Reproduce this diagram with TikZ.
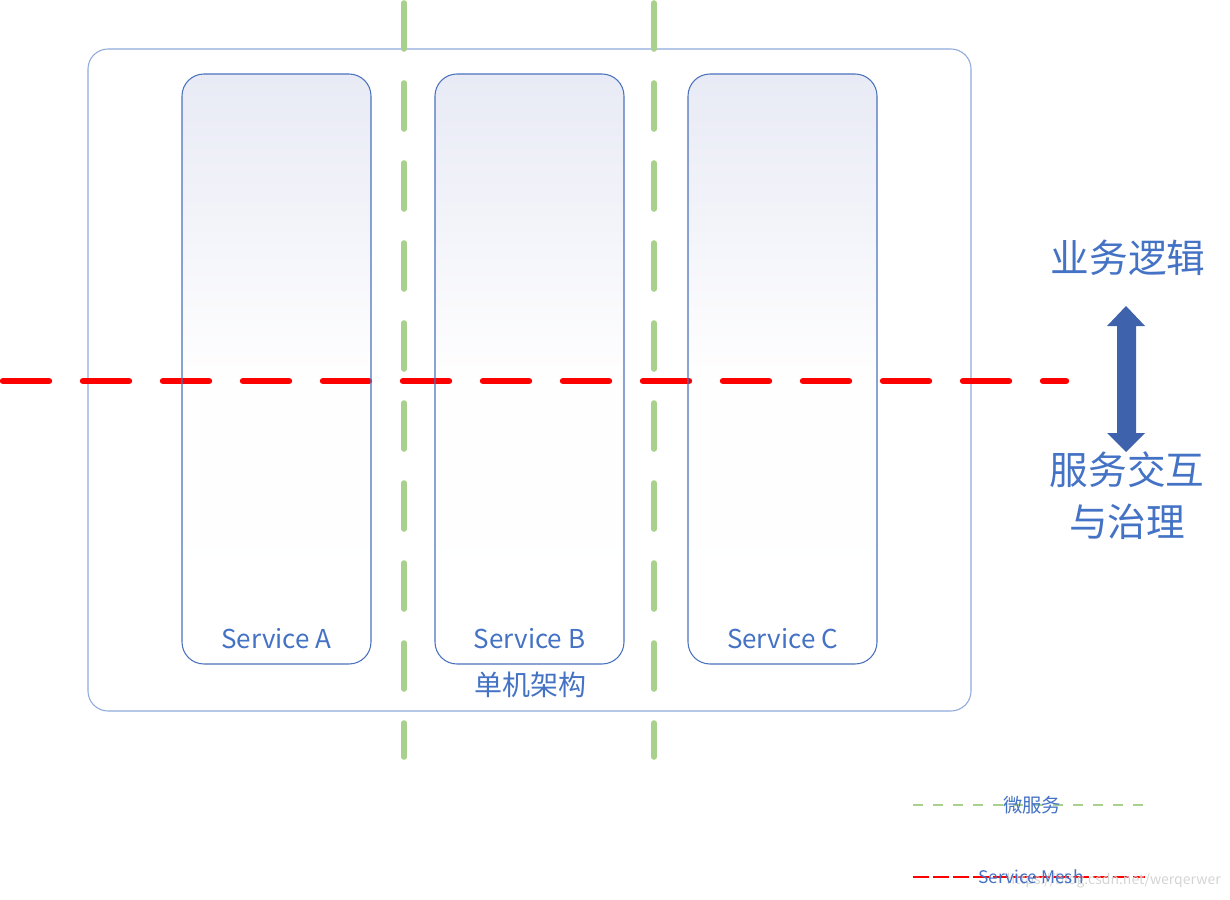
\documentclass[tikz,border=0pt]{standalone}
\usepackage{fontspec}
\setmainfont{Noto Sans CJK SC}
\usetikzlibrary{calc}
\definecolor{txtblue}{HTML}{4472C4}
\definecolor{outerblue}{HTML}{8FAADC}
\definecolor{boxblue}{HTML}{4A72BE}
\definecolor{lav}{HTML}{E8EAF5}
\definecolor{msgreen}{HTML}{A9D18E}
\definecolor{arrowblue}{HTML}{3F62AD}
\definecolor{wmgray}{HTML}{D4D4D4}
\tikzset{
  svcbox/.style={draw=boxblue, line width=0.8pt, rounded corners=16.5pt},
  svclabel/.style={text=txtblue, font=\fontsize{19.5}{22}\selectfont, anchor=center, inner sep=0pt},
  greendash/.style={draw=msgreen, line width=4.2pt, line cap=round, dash pattern=on 34.5pt off 25.5pt},
  reddash/.style={draw=red, line width=4.8pt, line cap=round, dash pattern=on 34.5pt off 25.5pt},
  bigtext/.style={text=txtblue, font=\fontsize{29}{36}\selectfont, inner sep=0pt, anchor=center},
}
\begin{document}
\begin{tikzpicture}[x=0.75pt, y=-0.75pt]
\useasboundingbox (0,0) rectangle (1230,899);
% outer box
\node[draw=outerblue, line width=0.8pt, rounded corners=15pt, minimum width=883*0.75pt, minimum height=662*0.75pt, inner sep=0pt] (outer) at (529.5,380) {};
% service boxes fills
\foreach \n/\cx in {A/276.5, B/529.5, C/782.5}{
  \node[shape=rectangle, rounded corners=16.5pt, top color=lav, bottom color=white, middle color=white!94!lav, minimum width=189*0.75pt, minimum height=590*0.75pt, inner sep=0pt] (fill\n) at (\cx,369) {};
}
% red service mesh line
\coordinate (redstart) at (3,381);
\coordinate (redend) at (1066,381);
\draw[reddash] (redstart) -- (redend);
% service boxes outlines
\foreach \n/\cx in {A/276.5, B/529.5, C/782.5}{
  \node[svcbox, minimum width=189*0.75pt, minimum height=590*0.75pt, inner sep=0pt] (svc\n) at (\cx,369) {};
  \node[svclabel] (lab\n) at (\cx,639) {Service \n};
}
\node[text=txtblue, font=\fontsize{21}{24}\selectfont, inner sep=0pt] (mono) at (530,685) {单机架构};
% green microservice lines
\coordinate (g1top) at (404,3);
\coordinate (g1bot) at (404,757);
\coordinate (g2top) at (654,3);
\coordinate (g2bot) at (654,757);
\draw[greendash] (g1top) -- (g1bot);
\draw[greendash] (g2top) -- (g2bot);
% right side
\node[bigtext] (biz) at (1128,258) {业务逻辑};
\node[bigtext, align=center, font=\fontsize{29}{39}\selectfont] (gov) at (1127,496) {服务交互\\与治理};
\fill[arrowblue] (1126,306) -- (1145,326) -- (1136,326) -- (1136,433) -- (1145,433) -- (1126,452) -- (1107,433) -- (1117,433) -- (1117,326) -- (1107,326) -- cycle;
% legend
\coordinate (lg1a) at (913,805);
\coordinate (lg1b) at (1145,805);
\coordinate (lg2a) at (913,877);
\coordinate (lg2b) at (1145,877);
\draw[draw=msgreen, line width=1.5pt, dash pattern=on 7.5pt off 7.5pt] (lg1a) -- (lg1b);
\draw[draw=red, line width=1.8pt, dash pattern=on 12pt off 3pt] (lg2a) -- (lg2b);
\node[text=txtblue, font=\fontsize{14.5}{16}\selectfont, inner sep=0pt] (legms) at (1032,805) {微服务};
\node[text=wmgray, font=\fontsize{10.5}{12}\selectfont, inner sep=0pt, anchor=east] (wm) at (1221,881) {https://blog.csdn.net/werqerwer};
\node[text=txtblue, font=\fontsize{13}{15}\selectfont, inner sep=0pt] (legsm) at (1031,877) {Service Mesh};
\end{tikzpicture}
\end{document}
